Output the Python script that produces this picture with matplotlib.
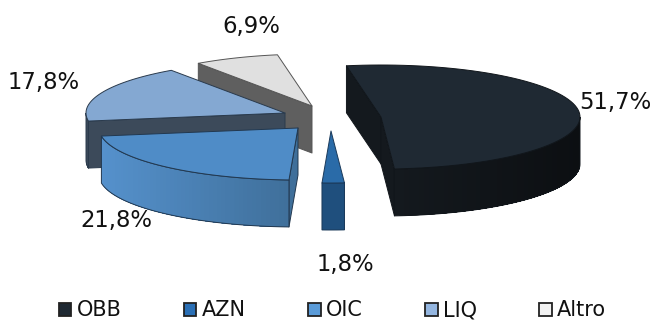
import numpy as np
import matplotlib
matplotlib.use("Agg")
import matplotlib.pyplot as plt
from matplotlib.patches import Polygon, Patch
from matplotlib.colors import to_rgb

categories = ["OBB", "AZN", "OIC", "LIQ", "Altro"]
values = [51.7, 1.8, 21.8, 17.8, 6.9]
value_labels = ["51,7%", "1,8%", "21,8%", "17,8%", "6,9%"]

# styling and layout per slice (pixel space of the 653x320 canvas)
top_colors = ["#1f2933", "#2a6ba8", "#4f8cc7", "#84a8d2", "#e0e0e0"]
legend_colors = ["#1f2933", "#2a6fb5", "#5a9bd8", "#94b6e0", "#f2f2f2"]
wall_left = ["#14191e", "#1f4f7d", "#5591cc", "#3c4a5a", "#5f5f5f"]
wall_right = ["#0c0f12", "#1f4f7d", "#3f6f9a", "#3c4a5a", "#5f5f5f"]
edge_colors = ["#11161b", "#1b3a5a", "#22384f", "#2a3a4c", "#555555"]
centers = [(381, 117), (331, 131), (298, 128), (285, 113), (312, 106)]
label_pos = [(615.5, 103), (345, 265), (116.5, 221), (44, 82), (251.5, 26)]
draw_order = [4, 3, 0, 2, 1]
RX, RY, DEPTH = 199, 52, 47
START_DEG = -10

fig = plt.figure(figsize=(6.53, 3.2), dpi=100)
ax = fig.add_axes([0, 0, 1, 1])
ax.set_xlim(0, 653)
ax.set_ylim(320, 0)
ax.axis("off")


def pt(c, deg):
    r = np.radians(deg)
    return c[0] + RX * np.sin(r), c[1] - RY * np.cos(r)


def arc(c, a, b, n=80):
    r = np.radians(np.linspace(a, b, n))
    return np.column_stack([c[0] + RX * np.sin(r), c[1] - RY * np.cos(r)])


edges = START_DEG + np.concatenate([[0], np.cumsum(values)]) * 3.6

for i in draw_order:
    c = centers[i]
    a, b = edges[i], edges[i + 1]
    ec = edge_colors[i]
    # radial walls that face the viewer
    for deg, visible in ((a, np.sin(np.radians(a)) < 0), (b, np.sin(np.radians(b)) > 0)):
        if visible:
            p = pt(c, deg)
            ax.add_patch(Polygon([c, p, (p[0], p[1] + DEPTH), (c[0], c[1] + DEPTH)],
                                 closed=True, fc=wall_left[i] if i != 2 else wall_right[i],
                                 ec=ec, lw=0.7, joinstyle="round"))
    # outer rim, front part only, with a horizontal colour ramp painted left to right
    lo, hi = max(a, 90), min(b, 270)
    if hi > lo:
        rim = arc(c, lo, hi, 60)
        rim = rim[np.argsort(rim[:, 0])]
        x0, x1 = rim[0, 0], rim[-1, 0]
        cl, cr = np.array(to_rgb(wall_left[i])), np.array(to_rgb(wall_right[i]))
        for k in range(len(rim) - 1):
            f = (rim[k, 0] - x0) / max(x1 - x0, 1)
            rest = rim[k:]
            ax.add_patch(Polygon(np.vstack([rest, rest[::-1] + (0, DEPTH)]),
                                 closed=True, fc=cl + (cr - cl) * f, ec="none", lw=0))
        outline = np.vstack([rim, rim[::-1] + (0, DEPTH)])
        ax.add_patch(Polygon(outline, closed=True, fc="none", ec=ec, lw=0.7))
    # top face
    ax.add_patch(Polygon(np.vstack([[c], arc(c, a, b)]), closed=True,
                         fc=top_colors[i], ec=ec, lw=0.7, joinstyle="round"))

for txt, (x, y) in zip(value_labels, label_pos):
    ax.text(x, y, txt, ha="center", va="center", fontsize=16.4,
            family="DejaVu Sans", color="#111111")

handles = [Patch(fc=col, ec="#222222", lw=1.3) for col in legend_colors]
leg = ax.legend(handles, categories, ncol=5, loc="center",
                bbox_to_anchor=(332.5 / 653, 1 - 310.5 / 320), frameon=False,
                fontsize=15, handlelength=0.6, handleheight=0.6,
                handletextpad=0.25, columnspacing=3.0, borderpad=0, borderaxespad=0,
                labelcolor="#111111")

fig.savefig("out.png", dpi=100, facecolor="white")
